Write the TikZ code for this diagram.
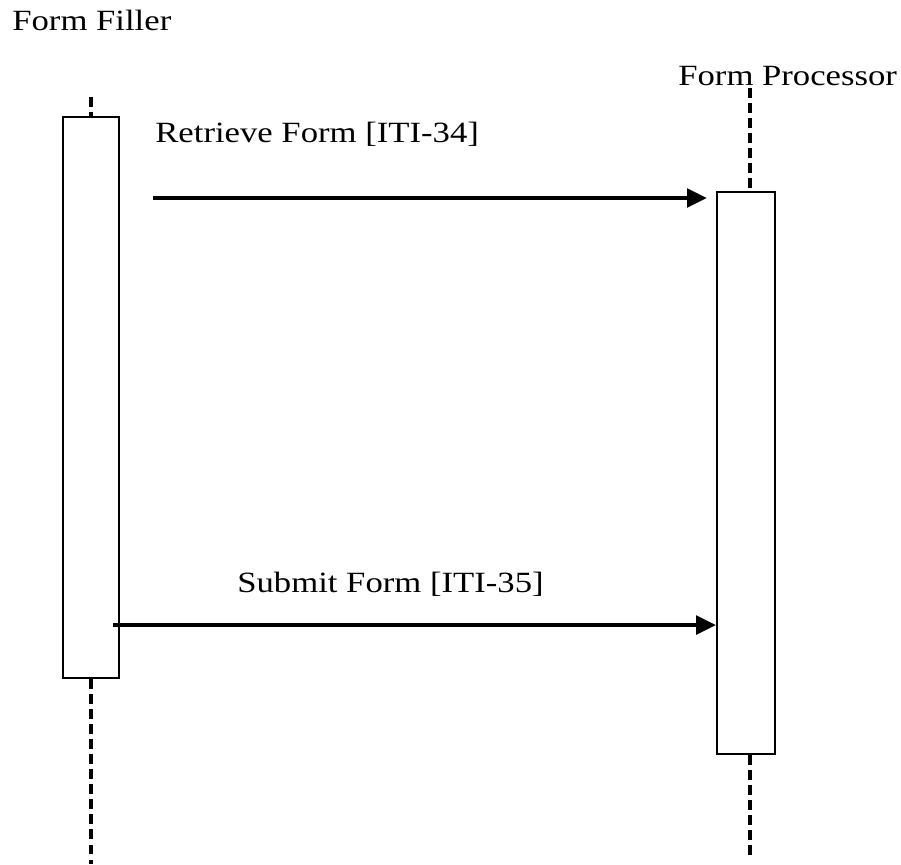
\documentclass[tikz,border=0pt]{standalone}
\usepackage{fontspec}
\setmainfont{Liberation Serif}
\usetikzlibrary{arrows.meta}
\begin{document}
\begin{tikzpicture}[x=0.025cm,y=-0.025cm,
  lbl/.style={anchor=base west,inner sep=0pt,xscale=1.18,font=\fontsize{20.9}{25}\selectfont},
  actbox/.style={draw,line width=1.3pt,inner sep=0pt,fill=white},
  lifeline/.style={line width=2.6pt,dash pattern=on 7.1pt off 3.6pt},
  msg/.style={line width=3pt,-{Triangle[length=0.5cm,width=0.46cm]}}]
\useasboundingbox (0,0) rectangle (901,864);
% participants
\node[lbl] (filler) at (12,30) {Form Filler};
\node[lbl] (processor) at (678,85) {Form Processor};
\coordinate (fillTop) at (91,97);
\coordinate (fillEnd) at (91,864);
\coordinate (procTop) at (750,88);
\coordinate (procEnd) at (750,855);
% activation boxes
\node[actbox,minimum width=1.4cm,minimum height=14.025cm] (fillbox) at (91,397.5) {};
\node[actbox,minimum width=1.45cm,minimum height=14.05cm] (procbox) at (746,473) {};
\draw[lifeline] (fillTop) -- (fillbox.north);
\draw[lifeline] (fillbox.south) -- (fillEnd);
\draw[lifeline] (procTop) -- (procTop |- procbox.north);
\draw[lifeline] (procEnd |- procbox.south) -- (procEnd);
% messages
\coordinate (retStart) at (153,198);
\coordinate (retEnd) at (707,198);
\coordinate (subStart) at (113,625);
\draw[msg] (retStart) -- (retEnd);
\draw[msg] (subStart) -- (procbox.west |- subStart);
\node[lbl] (retLbl) at (155,142) {Retrieve Form [ITI-34]};
\node[lbl] (subLbl) at (237,592) {Submit Form [ITI-35]};
\end{tikzpicture}
\end{document}
